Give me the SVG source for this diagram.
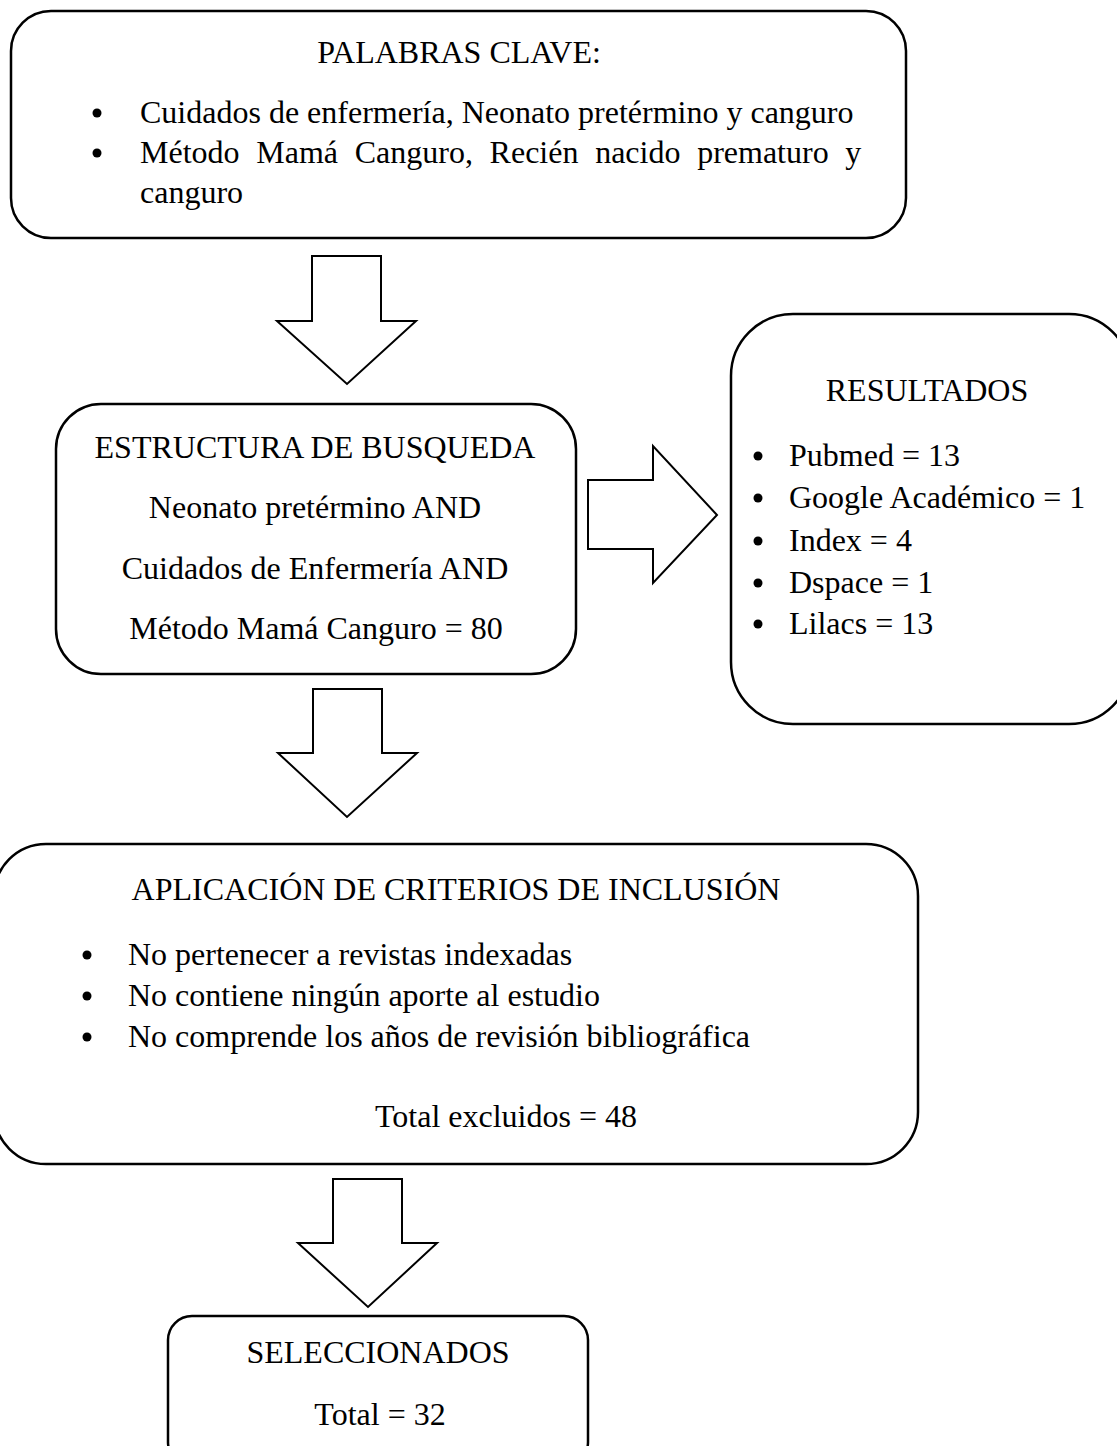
<svg xmlns="http://www.w3.org/2000/svg" width="1117" height="1446" viewBox="0 0 1117 1446">
<style>
.box{fill:#fff;stroke:#000;stroke-width:2.5}
.arr{fill:#fff;stroke:#000;stroke-width:2;stroke-linejoin:miter}
text{font-family:"Liberation Serif","Times New Roman",serif;font-size:32px;fill:#000}
.c{text-anchor:middle}
</style>
<rect width="1117" height="1446" fill="#fff"/>
<g id="connectors">
<polygon class="arr" points="312,256 381,256 381,321 416,321 347,384 277,321 312,321"/>
<polygon class="arr" points="588,480 653,480 653,446 717,515 653,583 653,549 588,549"/>
<polygon class="arr" points="313,689 382,689 382,753 417,753 347,817 278,753 313,753"/>
<polygon class="arr" points="333,1179 402,1179 402,1243 437,1243 368,1307 298,1243 333,1243"/>
</g>
<g id="palabras-clave">
<rect class="box" x="11" y="11" width="895" height="227" rx="40" ry="40"/>
<text class="c" x="459" y="63">PALABRAS CLAVE:</text>
<circle cx="97" cy="113" r="4.5"/>
<text x="140" y="123">Cuidados de enfermería, Neonato pretérmino y canguro</text>
<circle cx="97" cy="153" r="4.5"/>
<text x="140" y="163" word-spacing="8.7">Método Mamá Canguro, Recién nacido prematuro y</text>
<text x="140" y="203">canguro</text>
</g>
<g id="estructura">
<rect class="box" x="56" y="404" width="520" height="270" rx="45" ry="45"/>
<text class="c" x="315" y="458">ESTRUCTURA DE BUSQUEDA</text>
<text class="c" x="315" y="518">Neonato pretérmino AND</text>
<text class="c" x="315" y="579">Cuidados de Enfermería AND</text>
<text class="c" x="316" y="639">Método Mamá Canguro = 80</text>
</g>
<g id="resultados">
<rect class="box" x="731" y="314" width="400" height="410" rx="62" ry="62"/>
<text class="c" x="927" y="401">RESULTADOS</text>
<circle cx="758" cy="456" r="4.5"/>
<text x="789" y="466">Pubmed = 13</text>
<circle cx="758" cy="498" r="4.5"/>
<text x="789" y="508">Google Académico = 1</text>
<circle cx="758" cy="541" r="4.5"/>
<text x="789" y="551">Index = 4</text>
<circle cx="758" cy="583" r="4.5"/>
<text x="789" y="593">Dspace = 1</text>
<circle cx="758" cy="624" r="4.5"/>
<text x="789" y="634">Lilacs = 13</text>
</g>
<g id="criterios">
<rect class="box" x="-6" y="844" width="924" height="320" rx="52" ry="52"/>
<text class="c" x="456" y="900">APLICACIÓN DE CRITERIOS DE INCLUSIÓN</text>
<circle cx="87" cy="955" r="4.5"/>
<text x="128" y="965">No pertenecer a revistas indexadas</text>
<circle cx="87" cy="996" r="4.5"/>
<text x="128" y="1006">No contiene ningún aporte al estudio</text>
<circle cx="87" cy="1037" r="4.5"/>
<text x="128" y="1047">No comprende los años de revisión bibliográfica</text>
<text class="c" x="506" y="1127">Total excluidos = 48</text>
</g>
<g id="seleccionados">
<rect class="box" x="168" y="1316" width="420" height="150" rx="24" ry="24"/>
<text class="c" x="378" y="1363">SELECCIONADOS</text>
<text class="c" x="380" y="1425">Total = 32</text>
</g>
</svg>
